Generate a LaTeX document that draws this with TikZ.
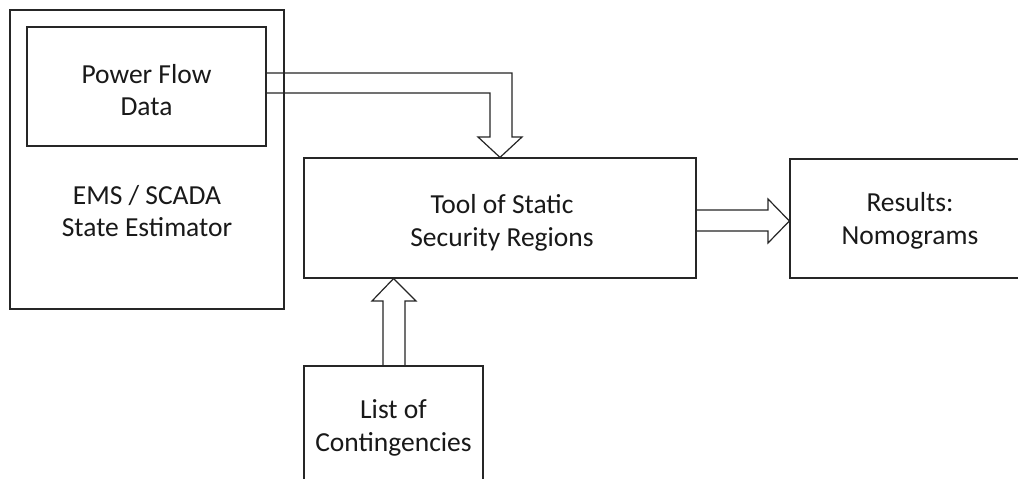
\documentclass[tikz,border=0pt]{standalone}
\usepackage{fontspec}
\setmainfont{Carlito}
\usetikzlibrary{calc}
\begin{document}
\begin{tikzpicture}[x=1pt,y=-1pt,
  box/.style={draw=black!85, line width=1.2pt, rectangle, inner sep=0pt},
  lbl/.style={align=center, font=\fontsize{27.5}{32.5}\selectfont, inner sep=0pt, text=black!90},
  blk/.style={draw=black!85, line width=1.2pt, line join=miter}]
\clip (0,0) rectangle (1018,479);
\fill[white] (0,0) rectangle (1018,479);
% boxes
\node[box, minimum width=274pt, minimum height=299pt] (ems) at (147,159.5) {};
\node[box, minimum width=239pt, minimum height=119pt] (pf) at (146.5,86.5) {};
\node[lbl] (pft) at (146.5,90) {Power Flow\\Data};
\node[lbl] (emst) at (147,211) {EMS / SCADA\\State Estimator};
\node[box, minimum width=392pt, minimum height=120pt] (tool) at (500,218) {};
\node[lbl] (toolt) at (502,223) {Tool of Static\\Security Regions};
\node[box, minimum width=240pt, minimum height=119pt] (res) at (910,218.5) {};
\node[lbl] (rest) at (910,221) {Results:\\Nomograms};
\node[box, minimum width=179pt, minimum height=124pt] (list) at (393.5,428) {};
\node[lbl] (listt) at (393.5,428) {List of\\Contingencies};
% block arrows
\draw[blk] ([yshift=13.5pt]pf.east) -- (512,73) -- (512,137) -- (522,137) -- (tool.north) -- (478,137) -- (490,137) -- (490,93) -- ([yshift=-6.5pt]pf.east);
\draw[blk] ([yshift=8pt]tool.east) -- (768,210) -- (768,199) -- ([yshift=-2.5pt]res.west) -- (768,243) -- (768,231) -- ([yshift=-13pt]tool.east);
\draw[blk] ([xshift=-10.5pt]list.north) -- (383,301) -- (372,301) -- (tool.south -| list.north) -- (416,301) -- (405,301) -- ([xshift=11.5pt]list.north);
\end{tikzpicture}
\end{document}
